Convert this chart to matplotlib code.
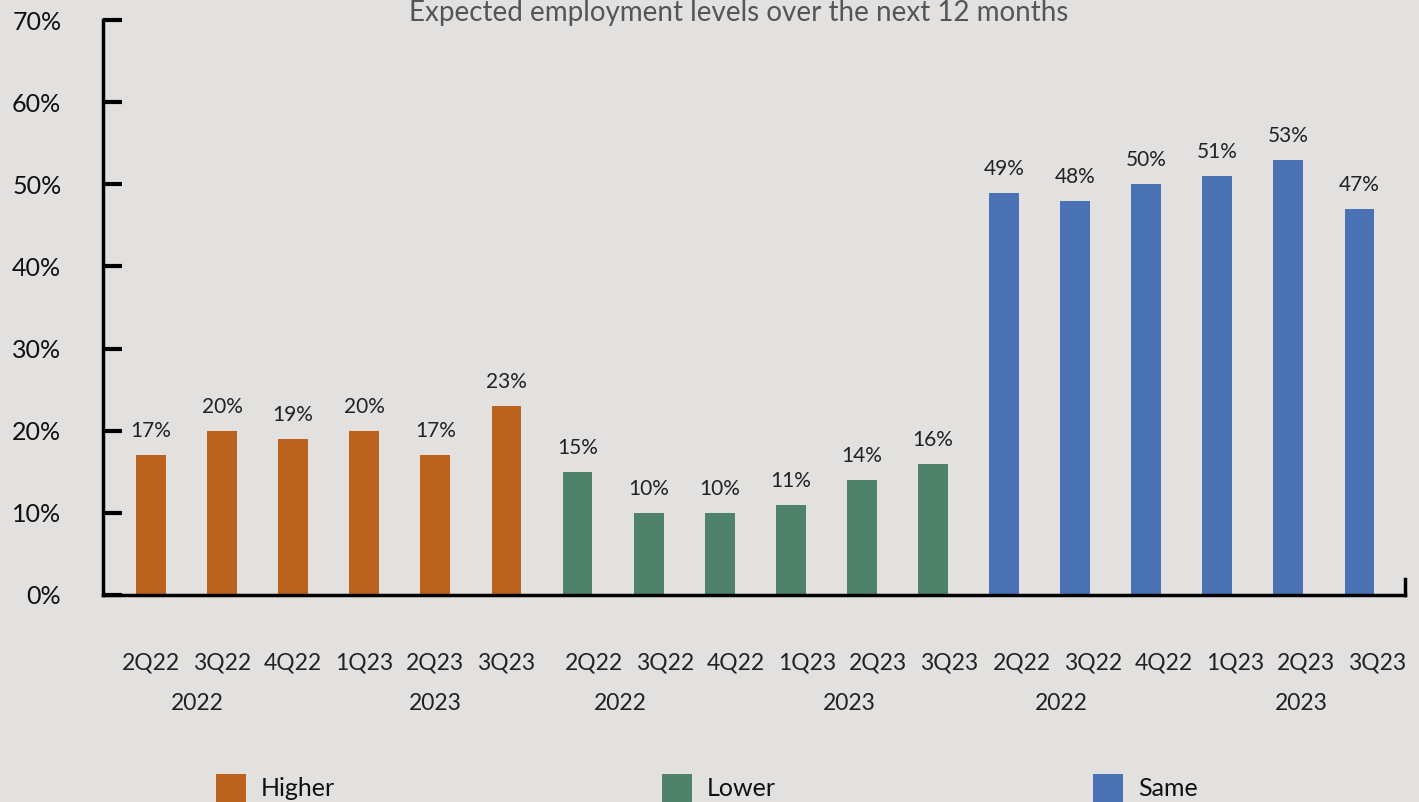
import matplotlib
matplotlib.use("Agg")
import matplotlib.pyplot as plt
from matplotlib.patches import Rectangle
import matplotlib.transforms as mtransforms

plt.rcParams['font.family'] = ['Lato', 'DejaVu Sans']

title = "Expected employment levels over the next 12 months"
series_names = ["Higher", "Lower", "Same"]
quarters = ["2Q22", "3Q22", "4Q22", "1Q23", "2Q23", "3Q23"]
year_labels = ["2022", "2023"]
higher = [17, 20, 19, 20, 17, 23]
lower = [15, 10, 10, 11, 14, 16]
same = [49, 48, 50, 51, 53, 47]
colors = ["#bb621f", "#4f826a", "#4a72b5"]
yticks = [0, 10, 20, 30, 40, 50, 60, 70]

bg = "#e2e1df"
fig = plt.figure(figsize=(14.19, 8.02), dpi=100, facecolor=bg)
ax = fig.add_axes([103/1419, 1 - 595/802, (1405-103)/1419, (595-20)/802])
ax.set_facecolor(bg)

groups = [higher, lower, same]
label_shift = [0.0, 0.23, 0.25]
year_pos = [(0.65, 4.0), (0.60, 3.83), (0.80, 4.18)]
n = len(quarters)
trans = mtransforms.blended_transform_factory(ax.transData, ax.transAxes)
for g, (vals, col) in enumerate(zip(groups, colors)):
    xs = [g*n + i for i in range(n)]
    ax.bar(xs, vals, width=0.42, color=col, zorder=2)
    for x, v in zip(xs, vals):
        ax.annotate(f"{v}%", (x, v), xytext=(0, 10), textcoords="offset points",
                    ha="center", va="bottom", fontsize=15, color="#222222")
    for i, q in enumerate(quarters):
        ax.text(g*n + i + label_shift[g], -0.118, q, transform=trans,
                ha="center", va="center", fontsize=16.5, color="#222222")
    for yl, yp in zip(year_labels, year_pos[g]):
        ax.text(g*n + yp, -0.188, yl, transform=trans,
                ha="center", va="center", fontsize=16.5, color="#222222")

ax.set_xlim(-0.675, 17.64)
ax.set_ylim(0, 70)
ax.set_xticks([])
ax.set_yticks(yticks)
ax.set_yticklabels([f"{t}%" for t in yticks], fontsize=18, color="#111111")
ax.tick_params(axis="y", direction="in", length=14, width=3, pad=30, color="black")
for s in ["top", "right"]:
    ax.spines[s].set_visible(False)
ax.spines["left"].set_linewidth(2.5)
ax.spines["bottom"].set_linewidth(2.5)
ax.axvline(17.64, ymin=0, ymax=0.028, color="black", lw=2.5, clip_on=False)

fig.text(739/1419, 1.0, title, ha="center", va="top", fontsize=20, color="#555555")

leg_x = [216, 662, 1093]
for name, col, lx in zip(series_names, colors, leg_x):
    fig.patches.append(Rectangle((lx/1419, 0), 30/1419, 28/802, transform=fig.transFigure,
                                 facecolor=col, edgecolor="none"))
    fig.text((lx + 45)/1419, 1 - 788/802, name, ha="left", va="center", fontsize=18, color="#111111")

fig.savefig("out.png", dpi=100, facecolor=bg)
